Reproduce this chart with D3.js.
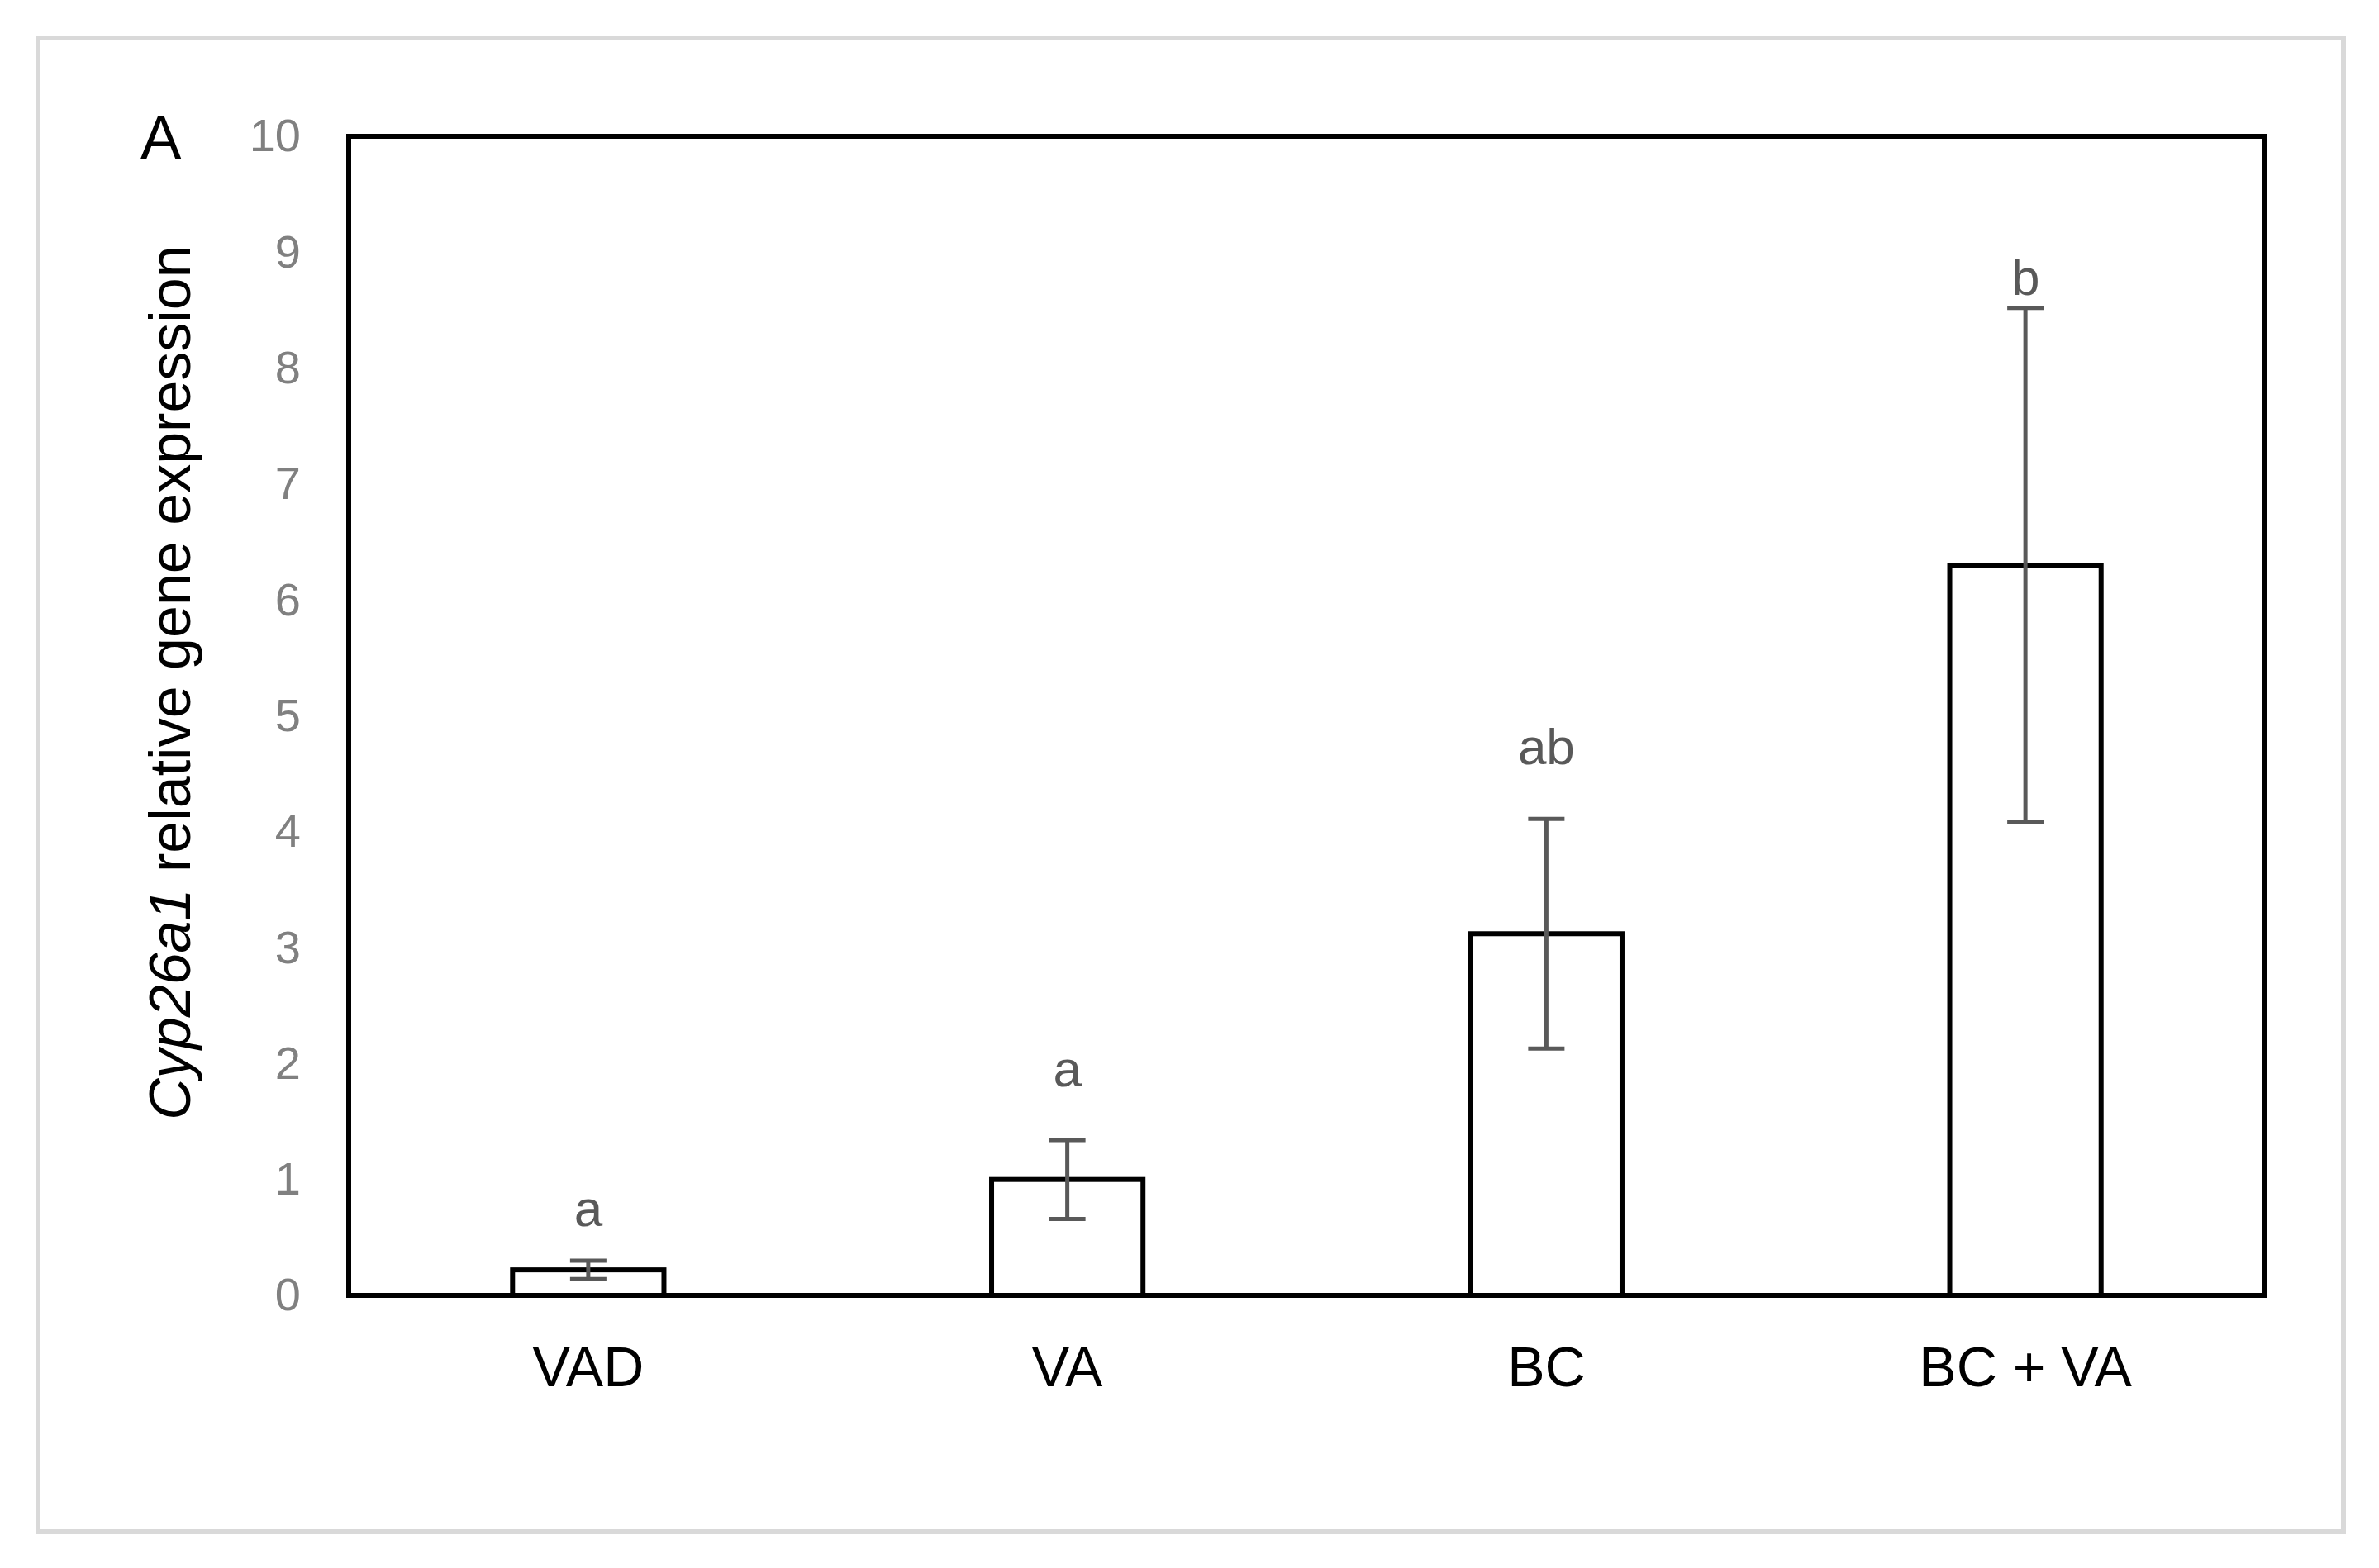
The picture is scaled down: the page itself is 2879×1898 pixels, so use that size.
<!DOCTYPE html>
<html>
<head>
<meta charset="utf-8">
<script src="https://cdn.jsdelivr.net/npm/d3@7"></script>
<style>
body { margin: 0; background: #fff; }
text { font-family: "Liberation Sans", Arial, sans-serif; }
</style>
</head>
<body>
<div id="chart"></div>
<script>
const width = 2879
const height = 1898
const margin = { top: 165, bottom: 330, left: 422, right: 138 }

const categories = ["VAD", "VA", "BC", "BC + VA"]
const means = [0.22, 1.0, 3.12, 6.3]
const errors = [0.08, 0.34, 0.99, 2.22]
const letters = ["a", "a", "ab", "b"]
const letterValues = [0.6, 1.8, 4.58, 8.63]
const yTicks = [0, 1, 2, 3, 4, 5, 6, 7, 8, 9, 10]

const svg = d3.select("div#chart").append("svg").attr("width", width).attr("height", height)

// outer frame
svg.append("rect").attr("x", 46).attr("y", 46).attr("width", 2790).attr("height", 1808)
    .attr("fill", "none").attr("stroke", "#d9d9d9").attr("stroke-width", 6)

const innerW = width - margin.left - margin.right
const innerH = height - margin.top - margin.bottom
const g = svg.append("g").attr("transform", `translate(${margin.left}, ${margin.top})`)

const x = d3.scaleBand().domain(categories).range([0, innerW]).paddingInner(0.684).paddingOuter(0.342)
const y = d3.scaleLinear().domain([0, 10]).range([innerH, 0])

// y axis labels
const yAxis = d3.axisLeft(y).tickValues(yTicks).tickSize(0).tickPadding(58)
const yg = g.append("g").call(yAxis)
yg.select(".domain").remove()
yg.selectAll("text").attr("font-size", 56).attr("fill", "#808080").attr("font-family", "Liberation Sans, Arial, sans-serif")

// x axis labels
const xAxis = d3.axisBottom(x).tickSize(0).tickPadding(62)
const xg = g.append("g").attr("transform", `translate(0, ${innerH})`).call(xAxis)
xg.select(".domain").remove()
xg.selectAll("text").attr("font-size", 68).attr("fill", "#000").attr("font-family", "Liberation Sans, Arial, sans-serif")

// bars
g.selectAll("rect.bar").data(means).enter().append("rect")
    .attr("class", "bar")
    .attr("x", (d, i) => x(categories[i]))
    .attr("y", d => y(d))
    .attr("width", x.bandwidth())
    .attr("height", d => innerH - y(d))
    .attr("fill", "#fff").attr("stroke", "#000").attr("stroke-width", 6)

// error bars
const cx = i => x(categories[i]) + x.bandwidth() / 2
const eb = g.selectAll("g.err").data(means).enter().append("g").attr("class", "err")
    .attr("stroke", "#595959").attr("stroke-width", 5)
eb.append("line").attr("x1", (d, i) => cx(i)).attr("x2", (d, i) => cx(i))
    .attr("y1", (d, i) => y(d - errors[i])).attr("y2", (d, i) => y(d + errors[i]))
eb.append("line").attr("x1", (d, i) => cx(i) - 22).attr("x2", (d, i) => cx(i) + 22)
    .attr("y1", (d, i) => y(d + errors[i])).attr("y2", (d, i) => y(d + errors[i]))
eb.append("line").attr("x1", (d, i) => cx(i) - 22).attr("x2", (d, i) => cx(i) + 22)
    .attr("y1", (d, i) => y(d - errors[i])).attr("y2", (d, i) => y(d - errors[i]))

// significance letters
g.selectAll("text.sig").data(letters).enter().append("text")
    .attr("class", "sig")
    .attr("x", (d, i) => cx(i))
    .attr("y", (d, i) => y(letterValues[i]))
    .attr("text-anchor", "middle").attr("font-size", 62).attr("fill", "#595959")
    .text(d => d)

// plot border
g.append("rect").attr("width", innerW).attr("height", innerH)
    .attr("fill", "none").attr("stroke", "#000").attr("stroke-width", 6)

// y label
const yl = svg.append("text").attr("transform", `translate(230, ${margin.top + innerH / 2 - 40}) rotate(-90)`)
    .attr("text-anchor", "middle").attr("font-size", 70).attr("fill", "#000")
yl.append("tspan").attr("font-style", "italic").text("Cyp26a1")
yl.append("tspan").text(" relative gene expression")

// panel letter
svg.append("text").attr("x", 170).attr("y", 192).attr("font-size", 74).attr("fill", "#000").text("A")
</script>
</body>
</html>
